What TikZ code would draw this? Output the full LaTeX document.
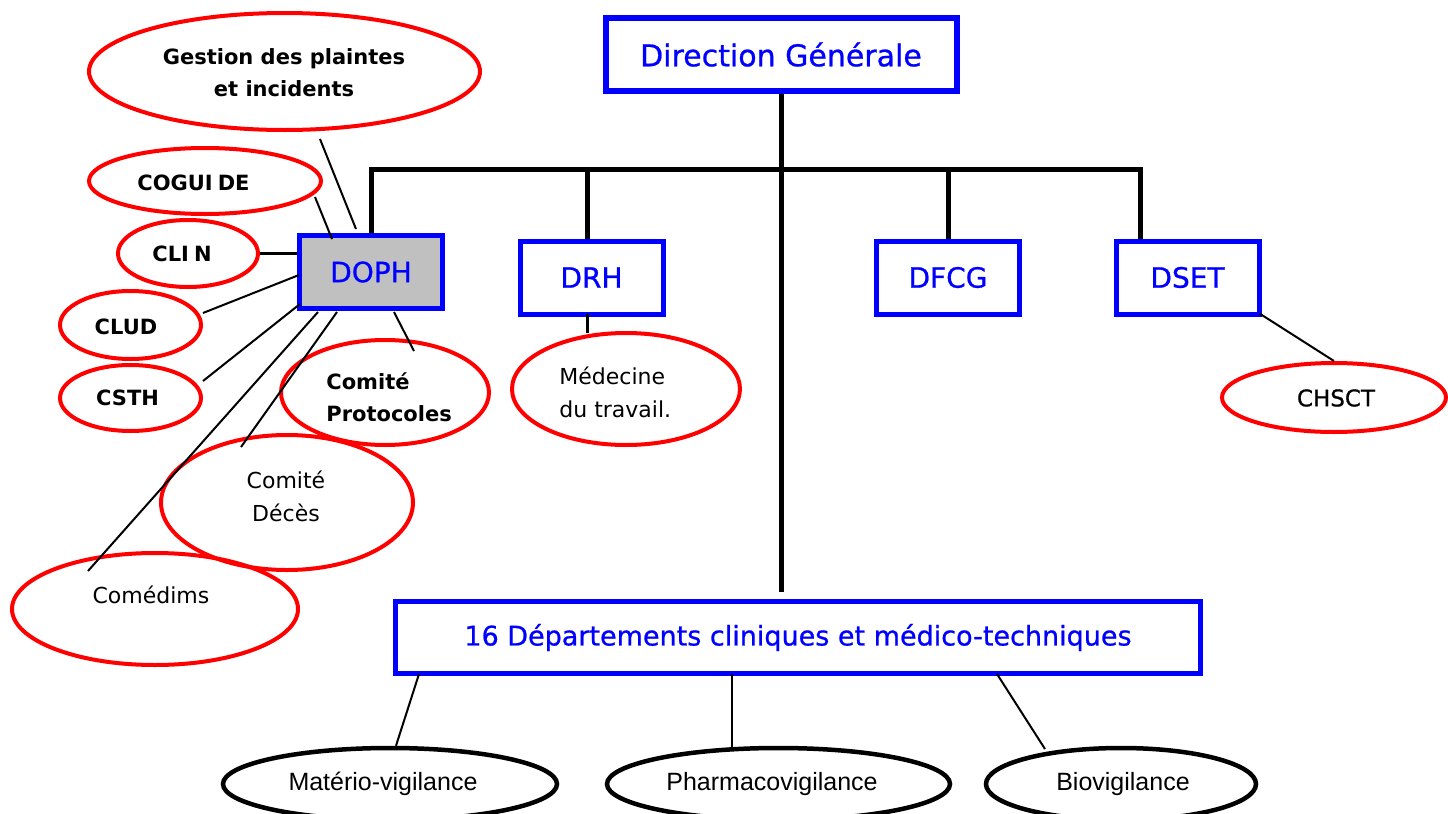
\documentclass[tikz,border=0pt]{standalone}
\usepackage{fontspec}
\setmainfont{DejaVu Sans}
\newfontfamily\arialfont{Liberation Sans}
\newfontfamily\medfont{DejaVu Sans}[FakeBold=0.8]
\usetikzlibrary{shapes.geometric,calc}
\definecolor{silver}{HTML}{C0C0C0}
\begin{document}
\begin{tikzpicture}[x=0.5pt,y=-0.5pt,
  bluebox/.style={draw=blue, line width=2.5pt, minimum width=71.5pt, minimum height=36.5pt,
    inner sep=0pt, text=blue, font=\medfont\fontsize{14}{17}\selectfont},
  redell/.style={ellipse, draw=red, line width=2pt, inner sep=0pt},
  blackell/.style={ellipse, draw=black, line width=2.25pt, inner sep=0pt},
  bus/.style={line width=2.5pt},
  conn/.style={line width=1pt},
  rtxt/.style={inner sep=0pt, font=\fontsize{11}{16.5}\selectfont},
  btxt/.style={inner sep=0pt, font=\fontsize{10.5}{16}\selectfont\bfseries},
  atxt/.style={inner sep=0pt, font=\arialfont\fontsize{12.5}{15}\selectfont},
]
\useasboundingbox (0,0) rectangle (1448,814);

% boxes
\node[bluebox, line width=3pt, minimum width=175.5pt, minimum height=36.5pt,
      font=\medfont\fontsize{15}{18}\selectfont] (dg) at (781,54.5) {Direction Générale};
\node[bluebox, fill=silver] (doph) at (371,272) {DOPH};
\node[bluebox] (drh) at (591.5,277.5) {DRH};
\node[bluebox] (dfcg) at (948,277.5) {DFCG};
\node[bluebox] (dset) at (1187.5,277.5) {DSET};
\node[bluebox, minimum width=402.5pt, minimum height=36pt,
      font=\medfont\fontsize{13.5}{16}\selectfont] (dep) at (798,637.5) {16 Départements cliniques et médico-techniques};

% bus and trunk
\coordinate (busy) at (0,169);
\draw[bus] (doph.north) -- (doph.north |- busy) -| ($(dset.north west)+(26.5,0)$);
\draw[bus] ($(drh.north)+(-4.5,0)$) -- ($(drh.north |- busy)+(-4.5,0)$);
\draw[bus] (dfcg.north) -- (dfcg.north |- busy);
\draw[bus] (dg.south) -- ++(0,498) coordinate (trunkend);

% red ellipses
\node[redell, minimum width=195.5pt, minimum height=58.5pt] (gest) at (284.5,71.5) {};
\node[redell, minimum width=116pt, minimum height=33pt] (cog) at (205,181) {};
\node[redell, minimum width=70pt, minimum height=33.5pt] (clin) at (188,253.5) {};
\node[redell, minimum width=70.5pt, minimum height=34pt] (clud) at (130.5,325) {};
\node[redell, minimum width=70.5pt, minimum height=33pt] (csth) at (130.5,398) {};
\node[redell, minimum width=104pt, minimum height=52.5pt] (prot) at (385,392.5) {};
\node[redell, minimum width=126pt, minimum height=67.5pt] (deces) at (287,502.5) {};
\node[redell, minimum width=143pt, minimum height=56pt] (comed) at (155,609) {};
\node[redell, minimum width=114pt, minimum height=56pt] (med) at (626,389) {};
\node[redell, minimum width=112pt, minimum height=34.5pt] (chsct) at (1334,397.5) {};

% black ellipses
\node[blackell, minimum width=167pt, minimum height=36pt] (mat) at (390,784) {};
\node[blackell, minimum width=171.5pt, minimum height=36pt] (pharm) at (778.5,784) {};
\node[blackell, minimum width=135pt, minimum height=36pt] (bio) at (1121,784) {};

% texts
\node[btxt, align=center] (gestT) at (284,73) {Gestion des plaintes\\et incidents};
\node[btxt] (cogT) at (193.5,183) {COGUI\kern2.5pt DE};
\node[btxt] (clinT) at (182,254) {CLI\kern2.5pt N};
\node[btxt] (cludT) at (126,327) {CLUD};
\node[btxt] (csthT) at (127.5,398) {CSTH};
\node[btxt, align=left, anchor=west] (protT) at (326,397.5) {Comité\\Protocoles};
\node[rtxt, align=center] (decesT) at (286,496.5) {Comité\\Décès};
\node[rtxt] (comedT) at (151,595) {Comédims};
\node[rtxt, align=left, anchor=west] (medT) at (559,392.5) {Médecine\\du travail.};
\node[rtxt, font=\medfont\fontsize{11.5}{14}\selectfont] (chsctT) at (1336,398) {CHSCT};
\node[atxt] (matT) at (383,784) {Matério-vigilance};
\node[atxt] (pharmT) at (772,784) {Pharmacovigilance};
\node[atxt] (bioT) at (1123,784) {Biovigilance};

% connectors
\draw[conn] ($(gest)+(35.5,67.5)$) -- ($(doph)+(-15,-43)$);
\draw[conn] ($(cog)+(110,16)$) -- ($(doph)+(-39,-33)$);
\draw[line width=1.5pt] (clin.east) -- (clin.east -| doph.west);
\draw[conn] ($(clud)+(72.5,-12)$) -- ($(doph)+(-72,3)$);
\draw[conn] ($(csth)+(72.5,-17)$) -- ($(doph)+(-71,32)$);
\draw[conn] ($(comed)+(-67,-38)$) -- ($(doph)+(-53,40)$);
\draw[conn] ($(deces)+(-46,-55.5)$) -- ($(doph)+(-34,40)$);
\draw[conn] ($(doph)+(23,40)$) -- ($(prot)+(29,-41.5)$);
\draw[line width=1.5pt] ($(drh.south)+(-4.5,-3)$) -- ($(drh.south |- med.north)+(-4.5,2)$);
\draw[conn] ($(dset.south east)+(-2,-3)$) -- (chsct.north);
\draw[conn] ($(dep.south west)+(26,-2)$) -- ($(mat.north)+(6,0)$);
\draw[conn] ($(dep.south west)+(339,-2)$) -- ($(dep.south west |- pharm.north)+(339,1)$);
\draw[conn] ($(dep.south west)+(604,-2)$) -- ($(bio)+(-76,-35)$);
\end{tikzpicture}
\end{document}
